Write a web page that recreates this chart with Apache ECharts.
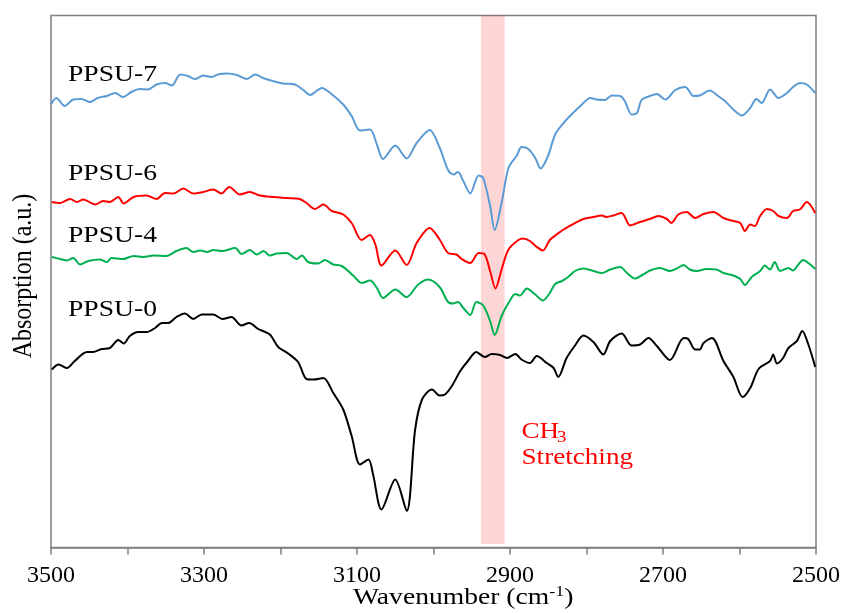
<!DOCTYPE html>
<html>
<head>
<meta charset="utf-8">
<title>PPSU FTIR</title>
<script src="https://cdn.jsdelivr.net/npm/echarts@6/dist/echarts.min.js"></script>
<style>
  html, body { margin: 0; padding: 0; background: #fff; }
  #chart { width: 846px; height: 613px; }
</style>
</head>
<body>
<div id="chart"></div>
<script>
// wavenumber (cm-1) / absorption (a.u., offset) pairs
const ppsu7 = [[3500,88.6],[3493,89.9],[3482,88.3],[3471,89.6],[3460,89.7],[3449,89.1],[3439,89.9],[3427,90.3],[3416,90.9],[3406,90.1],[3395,91.1],[3384,91.7],[3373,91.6],[3362,92.6],[3351,92.9],[3342,92.4],[3331,94.6],[3321,94.3],[3312,93.7],[3301,94.4],[3290,94.1],[3282,94.6],[3270,94.8],[3257,94.5],[3244,93.7],[3233,94.6],[3223,93.9],[3210,93.3],[3197,92.8],[3181,92.6],[3171,91.6],[3161,90.5],[3153,91.3],[3146,91.9],[3135,90.9],[3118,88.6],[3107,86.3],[3096,83.4],[3083,83.6],[3074,80.6],[3066,77.7],[3050,80.4],[3035,77.8],[3022,80.9],[3005,83.5],[2992,80.0],[2981,75.5],[2974,74.6],[2968,75.1],[2961,73.3],[2952,70.8],[2941,74.4],[2935,73.9],[2926,68.3],[2920,63.5],[2911,68.9],[2902,75.9],[2891,78.4],[2885,80.1],[2876,79.7],[2867,77.9],[2860,75.8],[2850,78.4],[2841,82.6],[2830,84.9],[2819,86.7],[2808,88.3],[2795,89.9],[2787,89.6],[2776,89.5],[2767,90.4],[2756,90.3],[2750,89.3],[2741,86.6],[2734,86.9],[2728,89.5],[2717,90.3],[2708,90.7],[2697,89.6],[2684,91.5],[2671,92.1],[2660,90.3],[2652,90.4],[2639,91.4],[2628,90.3],[2619,89.3],[2608,87.6],[2597,86.4],[2586,87.9],[2578,89.7],[2571,88.9],[2560,91.6],[2549,89.9],[2538,90.9],[2530,92.1],[2521,92.9],[2512,92.6],[2501,90.9]];

const ppsu6 = [[3499,69.1],[3488,68.9],[3475,69.7],[3466,69.1],[3458,69.6],[3442,68.6],[3432,69.3],[3423,69.1],[3412,70.1],[3405,68.8],[3392,70.1],[3375,70.4],[3362,69.7],[3351,70.9],[3340,70.8],[3327,71.8],[3314,70.8],[3301,71.1],[3288,71.6],[3277,70.8],[3267,72.1],[3253,70.6],[3240,71.1],[3227,70.4],[3209,70.1],[3192,69.9],[3175,69.7],[3166,68.9],[3155,67.7],[3144,68.6],[3133,67.3],[3118,66.6],[3107,64.9],[3094,61.5],[3083,62.5],[3076,60.6],[3068,56.4],[3050,59.4],[3035,56.5],[3022,60.9],[3005,63.9],[2992,61.6],[2981,58.9],[2970,58.6],[2963,57.7],[2952,56.9],[2941,58.9],[2933,58.6],[2926,55.3],[2919,51.8],[2911,55.6],[2902,59.6],[2889,61.5],[2883,61.8],[2874,61.3],[2865,60.1],[2857,59.4],[2848,61.5],[2839,62.6],[2830,63.6],[2817,64.7],[2804,65.7],[2791,66.1],[2780,66.4],[2774,66.1],[2765,66.4],[2754,66.9],[2743,64.4],[2730,65.1],[2717,65.7],[2706,66.3],[2695,65.7],[2689,64.9],[2680,66.6],[2669,67.1],[2658,65.9],[2647,66.7],[2634,67.1],[2621,65.9],[2608,65.3],[2599,64.9],[2593,63.3],[2586,64.6],[2580,64.3],[2573,66.3],[2564,67.7],[2556,67.3],[2549,66.3],[2538,65.9],[2530,67.3],[2521,67.6],[2512,69.1],[2501,66.9]];

const ppsu4 = [[3499,58.1],[3488,57.7],[3479,57.4],[3471,57.9],[3462,56.6],[3451,57.3],[3436,57.6],[3427,57.1],[3421,57.9],[3406,57.7],[3392,58.3],[3379,58.1],[3366,58.4],[3349,58.3],[3336,59.3],[3323,59.9],[3314,59.1],[3305,59.4],[3296,59.1],[3288,59.5],[3277,59.3],[3259,59.9],[3251,58.7],[3240,59.5],[3231,58.6],[3222,59.3],[3214,58.4],[3205,58.8],[3192,58.9],[3179,57.7],[3172,58.4],[3164,57.1],[3151,56.8],[3142,57.5],[3131,56.6],[3120,56.3],[3105,54.4],[3094,52.9],[3083,53.4],[3074,51.9],[3066,49.9],[3050,51.6],[3035,50.1],[3020,52.6],[3007,53.6],[2992,52.1],[2981,49.1],[2974,48.8],[2968,49.1],[2961,47.9],[2952,46.5],[2944,49.1],[2935,48.4],[2926,45.3],[2920,42.5],[2911,46.3],[2902,48.9],[2893,50.7],[2887,50.4],[2878,51.8],[2867,50.6],[2857,49.4],[2848,50.9],[2841,52.7],[2832,53.3],[2824,54.1],[2815,55.3],[2804,55.8],[2791,55.3],[2780,54.9],[2769,55.6],[2756,56.1],[2747,54.9],[2737,53.8],[2726,54.6],[2717,55.4],[2704,55.9],[2691,55.3],[2682,55.8],[2673,56.5],[2665,55.6],[2656,55.3],[2643,55.7],[2630,55.6],[2621,54.9],[2608,54.4],[2599,53.7],[2593,52.5],[2584,54.1],[2573,55.3],[2567,56.4],[2560,55.6],[2554,57.1],[2547,55.3],[2536,55.9],[2530,55.4],[2523,56.6],[2517,57.5],[2510,56.9],[2501,55.7]];

const ppsu0 = [[3499,35.6],[3490,36.6],[3479,35.9],[3469,37.3],[3453,39.1],[3445,39.1],[3434,39.7],[3423,39.9],[3412,41.5],[3405,40.8],[3397,42.3],[3386,43.1],[3375,43.1],[3364,43.9],[3355,44.9],[3347,44.9],[3336,46.1],[3325,46.8],[3314,45.7],[3303,46.6],[3288,46.6],[3276,45.7],[3264,46.1],[3251,44.4],[3241,44.9],[3229,43.7],[3214,42.6],[3203,40.1],[3190,38.8],[3177,37.1],[3166,33.7],[3157,33.6],[3144,33.9],[3131,30.9],[3118,27.6],[3107,22.3],[3096,16.6],[3085,17.6],[3079,14.6],[3068,7.6],[3050,13.6],[3035,7.3],[3024,23.6],[3015,29.6],[3002,31.6],[2992,30.4],[2985,30.6],[2976,32.3],[2965,35.3],[2955,37.3],[2944,39.1],[2933,38.1],[2924,38.7],[2913,38.5],[2904,37.9],[2893,38.7],[2885,37.6],[2874,36.9],[2865,38.3],[2852,36.9],[2843,35.9],[2837,34.1],[2826,37.9],[2815,40.4],[2804,42.4],[2791,41.1],[2778,38.6],[2769,41.3],[2754,42.8],[2741,40.4],[2730,40.6],[2719,41.9],[2708,40.3],[2691,37.5],[2673,41.9],[2667,41.7],[2658,39.6],[2652,39.6],[2647,40.9],[2636,41.9],[2621,37.3],[2608,34.1],[2596,30.1],[2586,31.9],[2575,35.7],[2560,37.3],[2556,38.6],[2551,36.8],[2543,37.9],[2536,39.9],[2525,41.3],[2518,43.3],[2510,40.6],[2501,36.1]];

// CH3 stretching band (cm-1)
const bandRange = [2938, 2907];

const serif = '"Liberation Serif", "Times New Roman", serif';

const chart = echarts.init(document.getElementById('chart'));

function spectrum(name, data, color) {
  return {
    name: name,
    type: 'line',
    data: data,
    smooth: 0.3,
    showSymbol: false,
    symbol: 'none',
    z: 2,
    lineStyle: { color: color, width: 2 },
  };
}

chart.setOption({
  animation: false,
  grid: {
    left: 51,
    right: 30,
    top: 15.5,
    bottom: 65.5,
    show: true,
    borderColor: '#7f7f7f',
    borderWidth: 1.5,
    backgroundColor: 'transparent'
  },
  xAxis: {
    type: 'value',
    inverse: true,
    min: 2500,
    max: 3500,
    interval: 100,
    axisLine: { show: true, lineStyle: { color: '#7f7f7f', width: 1.5 } },
    axisTick: { show: true, length: 7, lineStyle: { color: '#7f7f7f', width: 1.5 } },
    splitLine: { show: false },
    axisLabel: {
      margin: 16,
      color: '#000',
      fontFamily: serif,
      fontSize: 24,
      formatter: function (v) {
        return v % 200 === 100 ? String(v) : '';
      }
    }
  },
  yAxis: {
    type: 'value',
    min: 0,
    max: 106.4,
    show: false
  },
  series: [
    spectrum('PPSU-0', ppsu0, '#000000'),
    spectrum('PPSU-4', ppsu4, '#00b050'),
    spectrum('PPSU-6', ppsu6, '#ff0000'),
    spectrum('PPSU-7', ppsu7, '#5b9bd5'),
    {
      name: 'band',
      type: 'line',
      data: [],
      z: 5,
      clip: false,
      markArea: {
        silent: true,
        itemStyle: { color: 'rgba(255,0,0,0.16)' },
        data: [[{ xAxis: bandRange[0], yAxis: 0.7 }, { xAxis: bandRange[1], yAxis: 107.1 }]]
      }
    }
  ],
  graphic: [
    { type: 'text', x: 68, y: 75, scaleX: 1.2, style: { text: 'PPSU-7', font: '23px ' + serif, fill: '#000', textVerticalAlign: 'middle' } },
    { type: 'text', x: 68, y: 174, scaleX: 1.2, style: { text: 'PPSU-6', font: '23px ' + serif, fill: '#000', textVerticalAlign: 'middle' } },
    { type: 'text', x: 68, y: 235.5, scaleX: 1.2, style: { text: 'PPSU-4', font: '23px ' + serif, fill: '#000', textVerticalAlign: 'middle' } },
    { type: 'text', x: 68, y: 309.5, scaleX: 1.2, style: { text: 'PPSU-0', font: '23px ' + serif, fill: '#000', textVerticalAlign: 'middle' } },
    { type: 'text', x: 521.5, y: 432, scaleX: 1.18, style: { text: 'CH', font: '23px ' + serif, fill: '#ff0000', textVerticalAlign: 'middle' } },
    { type: 'text', x: 557, y: 438, scaleX: 1.18, style: { text: '3', font: '16px ' + serif, fill: '#ff0000', textVerticalAlign: 'middle' } },
    { type: 'text', x: 521.5, y: 458, scaleX: 1.18, style: { text: 'Stretching', font: '23px ' + serif, fill: '#ff0000', textVerticalAlign: 'middle' } },
    {
      type: 'text', x: 24, y: 276, rotation: Math.PI / 2, scaleY: 1.1,
      style: { text: 'Absorption (a.u.)', font: '24px ' + serif, fill: '#000', textAlign: 'center', textVerticalAlign: 'middle' }
    },
    {
      type: 'text', x: 353, y: 598, scaleX: 1.2,
      style: {
        text: '{m|Wavenumber (cm}{s|-1}{m|)}',
        fill: '#000',
        textVerticalAlign: 'middle',
        rich: {
          m: { fontFamily: serif, fontSize: 23, lineHeight: 26, fill: '#000' },
          s: { fontFamily: serif, fontSize: 15, lineHeight: 15, verticalAlign: 'top', fill: '#000' }
        }
      }
    }
  ]
});

window.addEventListener('resize', () => {
  chart.resize();
});
</script>
</body>
</html>
